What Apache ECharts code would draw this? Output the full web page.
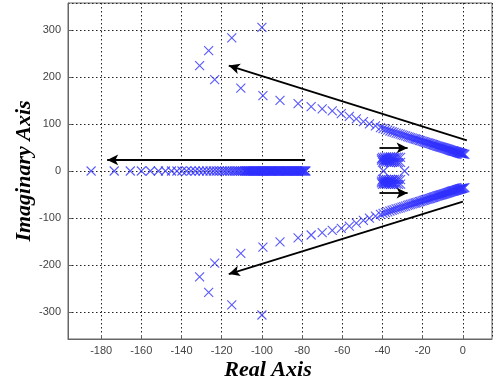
<!DOCTYPE html>
<html>
<head>
<meta charset="utf-8">
<script src="https://cdn.jsdelivr.net/npm/echarts@6/dist/echarts.min.js"></script>
<style>
  html, body { margin: 0; padding: 0; background: #fff; }
  #chart { width: 497px; height: 386px; }
</style>
</head>
<body>
<div id="chart"></div>
<script>
// Root locus poles, [real, imaginary]
const upperPoles = [
  [-100, 305], [-115, 283], [-126.5, 256], [-131, 224], [-123.5, 194], [-110.5, 176],
  [-99.5, 160], [-91, 150], [-82, 143], [-75.5, 137], [-70, 132], [-65, 128],
  [-60.5, 122], [-56.5, 116], [-53, 111], [-49.5, 105], [-46.5, 100], [-43.5, 96],
  [-41, 92], [-39.7, 90], [-38.5, 88.5], [-37.4, 86.8], [-36.3, 85], [-35.2, 83.4],
  [-34.2, 82], [-33.2, 80.6], [-32.2, 79.5], [-31.2, 78.2], [-30.3, 77], [-29.4, 75.6],
  [-28.5, 74.5], [-27.6, 73.2], [-26.8, 72], [-26, 71], [-25.2, 70], [-24.4, 69],
  [-23.7, 68], [-23, 67], [-22.3, 66], [-21.6, 65.2], [-21, 64.5], [-20.3, 63.4],
  [-19.7, 62.5], [-19.1, 61.8], [-18.5, 61], [-17.9, 60.2], [-17.3, 59.5], [-16.7, 58.7],
  [-16.2, 58], [-15.6, 57.2], [-15.1, 56.5], [-14.6, 55.8], [-14.1, 55], [-13.6, 54.3],
  [-13.1, 53.5], [-12.6, 53], [-12.2, 52.5], [-11.7, 51.7], [-11.3, 51], [-10.8, 50.5],
  [-10.4, 50], [-10, 49.5], [-9.6, 49], [-9.2, 48.5], [-8.8, 48], [-8.4, 47.5],
  [-8, 47], [-7.6, 46.5], [-7.3, 46], [-6.9, 45.5], [-6.6, 45], [-6.2, 44.5],
  [-5.9, 44], [-5.6, 43.5], [-5.3, 43], [-5, 42.8], [-4.7, 42.5], [-4.4, 42],
  [-4.1, 41.5], [-3.8, 41.2], [-3.5, 41], [-3.2, 40.5], [-3, 40], [-2.7, 39.8],
  [-2.5, 39.5], [-2.2, 39.2], [-2, 39], [-1.7, 38.5], [-1.5, 38], [-1.2, 37.8],
  [-1, 37.5], [-0.7, 37.2], [-0.5, 37], [-0.2, 36.8], [0, 36.5], [0.5, 36], [1, 35.5]
];
const lowerPoles = [
  [-100, -306], [-115, -284.5], [-126.5, -258], [-131, -225], [-123.5, -196], [-110.5, -175],
  [-99.5, -162], [-91, -150.5], [-82, -142], [-75.5, -136], [-70, -131], [-65, -126],
  [-60.5, -122], [-56.5, -117], [-53, -111], [-49.5, -105], [-46.5, -100], [-43.5, -96],
  [-41, -92], [-39.7, -90], [-38.5, -88.5], [-37.4, -86.8], [-36.3, -85], [-35.2, -83.4],
  [-34.2, -82], [-33.2, -80.6], [-32.2, -79.5], [-31.2, -78.2], [-30.3, -77], [-29.4, -75.6],
  [-28.5, -74.5], [-27.6, -73.2], [-26.8, -72], [-26, -71], [-25.2, -70], [-24.4, -69],
  [-23.7, -68], [-23, -67], [-22.3, -66], [-21.6, -65.2], [-21, -64.5], [-20.3, -63.4],
  [-19.7, -62.5], [-19.1, -61.8], [-18.5, -61], [-17.9, -60.2], [-17.3, -59.5], [-16.7, -58.7],
  [-16.2, -58], [-15.6, -57.2], [-15.1, -56.5], [-14.6, -55.8], [-14.1, -55], [-13.6, -54.3],
  [-13.1, -53.5], [-12.6, -53], [-12.2, -52.5], [-11.7, -51.7], [-11.3, -51], [-10.8, -50.5],
  [-10.4, -50], [-10, -49.5], [-9.6, -49], [-9.2, -48.5], [-8.8, -48], [-8.4, -47.5],
  [-8, -47], [-7.6, -46.5], [-7.3, -46], [-6.9, -45.5], [-6.6, -45], [-6.2, -44.5],
  [-5.9, -44], [-5.6, -43.5], [-5.3, -43], [-5, -42.8], [-4.7, -42.5], [-4.4, -42],
  [-4.1, -41.5], [-3.8, -41.2], [-3.5, -41], [-3.2, -40.5], [-3, -40], [-2.7, -39.8],
  [-2.5, -39.5], [-2.2, -39.2], [-2, -39], [-1.7, -38.5], [-1.5, -38], [-1.2, -37.8],
  [-1, -37.5], [-0.7, -37.2], [-0.5, -37], [-0.2, -36.8], [0, -36.5], [0.5, -36], [1, -35.5]
];
// Real-axis branch positions (imaginary part is zero)
const realAxisPoles = [
  -185, -173.5, -165.5, -160, -155.5, -151.5, -148, -145, -142.3, -139.8, -137.5,
  -135.3, -133.2, -131.2, -129.3, -127.5, -125.8, -124.2, -122.7, -121.2, -119.8,
  -118.5, -117.2, -116, -114.8, -113.7, -112.6, -111.6, -110.6, -109.7, -108.8,
  -108.3, -107.8, -107.3, -106.9, -106.4, -106, -105.5, -105.1, -104.6, -104.1,
  -103.7, -103.2, -102.8, -102.4, -101.9, -101.5, -101, -100.6, -100.1, -99.7,
  -99.2, -98.8, -98.3, -97.9, -97.4, -97, -96.5, -96.1, -95.7, -95.3, -94.8,
  -94.4, -93.9, -93.5, -93, -92.6, -92.1, -91.7, -91.3, -90.9, -90.4, -90,
  -89.5, -89.1, -88.6, -88.2, -87.7, -87.3, -86.9, -86.5, -86, -85.6, -85.1,
  -84.7, -84.2, -83.8, -83.3, -82.9, -82.5, -82.1, -81.6, -81.2, -80.7, -80.3,
  -79.8, -79.4, -78.9, -78.5, -78.1, -39.5, -29
];
// Small group of poles near -36 ± 24j
const clusterPoles = [
  [-40, 29], [-39, 29.5], [-38, 30], [-37, 29.5], [-36, 30], [-35, 29.5], [-34, 29], [-33, 29.5], [-32, 29.5], [-31, 29],
  [-40.5, 26.5], [-39.5, 26], [-38.5, 26.5], [-37.5, 26], [-36.5, 26.5], [-35.5, 26], [-34.5, 26.5],
  [-40.5, 23], [-39.5, 22.5], [-38.5, 23], [-37.5, 22.5], [-36.5, 22], [-35.5, 21.5],
  [-40, 19], [-39, 18.5], [-38, 19], [-37, 18.5], [-36, 18], [-35, 18.5], [-34, 19], [-33, 18.5], [-32, 18], [-31, 18.5],
  [-40, -18], [-39, -18.5], [-38, -18], [-37, -18.5], [-36, -18], [-35, -18.5], [-34, -18], [-33, -18.5], [-32, -18], [-31, -18.5],
  [-40.5, -21.5], [-39.5, -22], [-38.5, -21.5], [-37.5, -22], [-36.5, -22.5], [-35.5, -22],
  [-40.5, -25], [-39.5, -25.5], [-38.5, -25], [-37.5, -25.5], [-36.5, -25], [-35.5, -25.5], [-34.5, -25],
  [-40, -28.5], [-39, -28], [-38, -28.5], [-37, -28], [-36, -28.5], [-35, -28], [-34, -28.5], [-33, -28], [-32, -28.5], [-31, -28]
];
// Direction arrows: [start, end]
const arrows = [
  [[2, 65], [-116.5, 224]],
  [[0, -65], [-116.5, -219]],
  [[-78.5, 23.5], [-177, 23.5]],
  [[-41.5, 49], [-27.5, 49]],
  [[-41.5, -47], [-27.5, -47]]
];
const xTicks = { min: -196.5, max: 14.5, step: 20 };
const yTicks = { min: -357, max: 357, step: 100 };

const crossSymbol = 'path://M0,0L10,10M10,0L0,10';
const markStyle = {
  type: 'scatter',
  symbol: crossSymbol,
  symbolSize: 9,
  silent: true,
  itemStyle: { color: 'rgba(0,0,0,0)', borderColor: '#3030ff', borderWidth: 1.1 }
};

const tickLabelStyle = { fontFamily: 'Liberation Sans, Arial, sans-serif', fontSize: 11, color: '#444' };
const titleStyle = { fontFamily: 'Liberation Serif, Times New Roman, serif', fontSize: 22, fontWeight: 'bold', fontStyle: 'italic', color: '#000' };
const gridDots = { show: true, lineStyle: { color: '#222', width: 1, type: [1.5, 2.5] } };

const chart = echarts.init(document.getElementById('chart'), null, { renderer: 'canvas' });
chart.setOption({
  animation: false,
  backgroundColor: '#fff',
  grid: {
    left: 68, right: 5, top: 3, bottom: 47,
    containLabel: false,
    outerBoundsMode: 'none',
    show: true, borderColor: '#666', borderWidth: 1
  },
  xAxis: {
    type: 'value',
    min: xTicks.min, max: xTicks.max,
    minInterval: xTicks.step, maxInterval: xTicks.step,
    splitNumber: 10,
    axisLine: { show: true, onZero: false, lineStyle: { color: '#666' } },
    axisTick: { show: true, inside: true, length: 4, lineStyle: { color: '#666' } },
    axisLabel: Object.assign({ margin: 6, showMinLabel: false, showMaxLabel: false }, tickLabelStyle),
    splitLine: gridDots,
    name: 'Real Axis',
    nameLocation: 'middle',
    nameGap: 20,
    nameMoveOverlap: false,
    nameTextStyle: Object.assign({ padding: [0, 24, 0, 0] }, titleStyle)
  },
  yAxis: {
    type: 'value',
    min: yTicks.min, max: yTicks.max,
    minInterval: yTicks.step, maxInterval: yTicks.step,
    splitNumber: 7,
    axisLine: { show: true, onZero: false, lineStyle: { color: '#666' } },
    axisTick: { show: true, inside: true, length: 4, lineStyle: { color: '#666' } },
    axisLabel: Object.assign({ margin: 7, showMinLabel: false, showMaxLabel: false }, tickLabelStyle),
    splitLine: gridDots,
    name: 'Imaginary Axis',
    nameLocation: 'middle',
    nameGap: 33,
    nameMoveOverlap: false,
    nameTextStyle: titleStyle
  },
  series: [
    Object.assign({ name: 'upper', data: upperPoles }, markStyle),
    Object.assign({ name: 'lower', data: lowerPoles }, markStyle),
    Object.assign({ name: 'real', data: realAxisPoles.map(function (r) { return [r, 0]; }) }, markStyle),
    Object.assign({ name: 'cluster', data: clusterPoles }, markStyle),
    {
      type: 'line',
      name: 'arrows',
      data: [],
      silent: true,
      markLine: {
        silent: true,
        symbol: ['none', 'arrow'],
        symbolSize: [8, 11],
        label: { show: false },
        lineStyle: { color: '#000', width: 1.8, type: 'solid' },
        emphasis: { disabled: true },
        data: arrows.map(function (a) {
          return [{ coord: a[0] }, { coord: a[1] }];
        })
      }
    }
  ]
});
</script>
</body>
</html>
